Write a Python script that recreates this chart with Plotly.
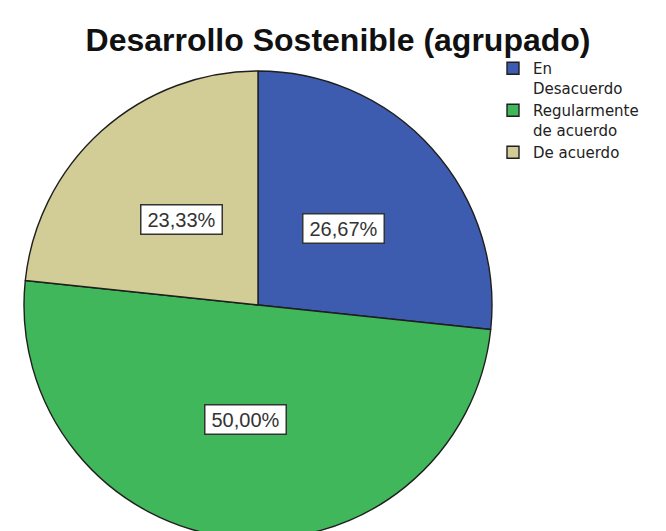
import math
import plotly.graph_objects as go

# ---- data ----
title_text = "Desarrollo Sostenible (agrupado)"
categories = ["En<br>Desacuerdo", "Regularmente<br>de acuerdo", "De acuerdo"]
percentages = [26.67, 50.00, 23.33]
colors = ["#3E5CAF", "#40B75A", "#D2CD96"]

W, H = 666, 531
OFF = 8  # page body margin in the browser
# pie geometry in page pixels, converted to figure pixels
cx_px, cy_px, R_px = 258 - OFF, 305 - OFF, 234

fig = go.Figure()
fig.add_trace(go.Pie(
    labels=categories,
    values=percentages,
    sort=False,
    direction="clockwise",
    rotation=0,
    textinfo="none",
    hoverinfo="label+percent",
    marker=dict(colors=colors, line=dict(color="#1f1f1f", width=1.4)),
    domain=dict(x=[(cx_px - R_px) / W, (cx_px + R_px) / W],
                y=[max(0, (H - cy_px - R_px) / H), (H - cy_px + R_px) / H]),
))

# label boxes placed at the angular middle of each slice
total = sum(percentages)
cum = 0.0
annotations = []
for v in percentages:
    mid = (cum + v / 2) / total * 2 * math.pi
    cum += v
    px = cx_px + 0.49 * R_px * math.sin(mid)
    py = cy_px - 0.49 * R_px * math.cos(mid)
    annotations.append(dict(
        x=px / W, y=1 - py / H, xref="paper", yref="paper",
        xanchor="center", yanchor="middle",
        text=f"{v:.2f}".replace(".", ",") + "%",
        showarrow=False, width=74,
        font=dict(family="Liberation Sans, Arial, sans-serif", size=20, color="#333333"),
        bgcolor="white", bordercolor="#333333", borderwidth=1.5, borderpad=3,
    ))

fig.update_layout(
    width=W, height=H,
    margin=dict(l=0, r=0, t=0, b=0),
    paper_bgcolor="white",
    plot_bgcolor="white",
    title=dict(text=title_text, x=(338 - OFF) / W, xanchor="center",
               y=1 - (40 - OFF) / H, yanchor="middle",
               font=dict(family="Liberation Sans, Arial, sans-serif", size=32, color="#111111",
                         weight="bold")),
    legend=dict(x=(493 - OFF) / W, xanchor="left", y=1 - (52 - OFF) / H, yanchor="top",
                valign="top",
                font=dict(family="DejaVu Sans, sans-serif", size=15, color="#222222"),
                bgcolor="rgba(0,0,0,0)", tracegroupgap=0, itemwidth=30),
    annotations=annotations,
)

fig.write_html("out.html")
